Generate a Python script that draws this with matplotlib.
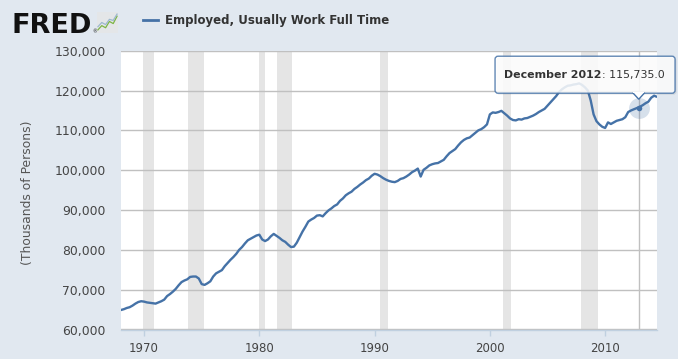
import numpy as np
import pandas as pd
import matplotlib
matplotlib.use("Agg")
import matplotlib.pyplot as plt
from matplotlib.patches import FancyBboxPatch, Polygon, Rectangle

# ---------------- data ----------------
series_name = "Employed, Usually Work Full Time"
y_label = "(Thousands of Persons)"

# quarterly readings (Jan, Apr, Jul, Oct), thousands of persons / 1000
quarterly_values = [
    64.9, 65.1, 65.4, 65.6,      # 1968
    66.0, 66.5, 66.9, 67.1,      # 1969
    67.0, 66.8, 66.7, 66.6,      # 1970
    66.5, 66.8, 67.1, 67.5,      # 1971
    68.4, 68.9, 69.5, 70.2,      # 1972
    71.1, 71.9, 72.3, 72.6,      # 1973
    73.2, 73.3, 73.3, 72.8,      # 1974
    71.4, 71.2, 71.6, 72.1,      # 1975
    73.3, 74.1, 74.5, 74.9,      # 1976
    75.9, 76.7, 77.5, 78.2,      # 1977
    79.0, 80.0, 80.7, 81.6,      # 1978
    82.4, 82.8, 83.2, 83.6,      # 1979
    83.8, 82.6, 82.2, 82.6,      # 1980
    83.4, 84.0, 83.5, 83.0,      # 1981
    82.4, 82.0, 81.3, 80.7,      # 1982
    80.8, 81.8, 83.2, 84.6,      # 1983
    85.8, 87.1, 87.6, 88.0,      # 1984
    88.6, 88.7, 88.4, 89.2,      # 1985
    89.9, 90.4, 91.0, 91.4,      # 1986
    92.3, 92.9, 93.7, 94.2,      # 1987
    94.6, 95.3, 95.8, 96.4,      # 1988
    96.9, 97.5, 97.9, 98.6,      # 1989
    99.1, 98.9, 98.5, 98.0,      # 1990
    97.6, 97.3, 97.1, 97.0,      # 1991
    97.3, 97.8, 98.0, 98.4,      # 1992
    98.9, 99.5, 99.9, 100.4,     # 1993
    98.4, 100.1, 100.6, 101.2,   # 1994
    101.5, 101.7, 101.8, 102.2,  # 1995
    102.6, 103.5, 104.3, 104.8,  # 1996
    105.3, 106.2, 107.0, 107.6,  # 1997
    108.0, 108.2, 108.8, 109.4,  # 1998
    110.0, 110.3, 110.8, 111.5,  # 1999
    114.0, 114.5, 114.4, 114.6,  # 2000
    114.9, 114.3, 113.7, 113.0,  # 2001
    112.6, 112.5, 112.8, 112.7,  # 2002
    113.0, 113.1, 113.4, 113.7,  # 2003
    114.1, 114.6, 115.0, 115.4,  # 2004
    116.2, 117.0, 117.8, 118.6,  # 2005
    119.6, 120.3, 120.8, 121.2,  # 2006
    121.3, 121.5, 121.6, 121.8,  # 2007
    121.4, 120.8, 120.0, 117.5,  # 2008
    114.0, 112.3, 111.5, 110.9,  # 2009
    110.6, 112.0, 111.6, 112.0,  # 2010
    112.4, 112.6, 112.8, 113.3,  # 2011
    114.6, 115.0, 115.3, 115.6,  # 2012
    115.9, 116.3, 116.8, 117.2,  # 2013
    118.2, 118.7,                # 2014
]
series_start = "1968-01-01"
last_date = "2014-06-01"
last_value = 118.5

recessions = [
    ("1969-12-01", "1970-11-01"),
    ("1973-11-01", "1975-03-01"),
    ("1980-01-01", "1980-07-01"),
    ("1981-07-01", "1982-11-01"),
    ("1990-07-01", "1991-03-01"),
    ("2001-03-01", "2001-11-01"),
    ("2007-12-01", "2009-06-01"),
]

highlight_label = "December 2012"
highlight_date = "2012-12-01"
highlight_value = 115735.0

y_ticks = [60000, 70000, 80000, 90000, 100000, 110000, 120000, 130000]
x_ticks = [1970, 1980, 1990, 2000, 2010]
x_range = (1968.0, 2014.5)

# decorative FRED icon zigzags
icon_line_a = [0.15, 0.35, 0.25, 0.55, 0.45, 0.8]
icon_line_b = [0.3, 0.5, 0.4, 0.65, 0.6, 0.9]

# ---------------- styling ----------------
BG = "#E1E8F0"
LINE = "#4572A7"
GRID = "#C0C0C0"
REC = "#E5E5E5"
TXT = "#333333"


def dec_year(d):
    d = pd.Timestamp(d)
    return d.year + (d.month - 1) / 12.0


dates = list(pd.date_range(series_start, periods=len(quarterly_values), freq="QS")) + [pd.Timestamp(last_date)]
x = np.array([dec_year(d) for d in dates])
y = np.array(quarterly_values + [last_value]) * 1000.0

W, H = 678, 359
fig = plt.figure(figsize=(W / 100, H / 100), dpi=100)
fig.patch.set_facecolor(BG)

ax = fig.add_axes([121 / W, (H - 329.5) / H, 536 / W, 278.8 / H])
ax.set_facecolor("white")
ax.set_xlim(*x_range)
ax.set_ylim(y_ticks[0], y_ticks[-1])

for s, e in recessions:
    ax.axvspan(dec_year(s), dec_year(e), color=REC, lw=0, zorder=1)

for t in y_ticks:
    ax.axhline(t, color=GRID, lw=1, zorder=2)

hx = dec_year(highlight_date)
ax.axvline(hx, color=GRID, lw=1, zorder=2)

ax.plot(x, y, color=LINE, lw=1.7, zorder=3, solid_joinstyle="round")

ax.plot([hx], [highlight_value], "o", ms=15, color=LINE, alpha=0.22, mec="none", zorder=4)
ax.plot([hx], [highlight_value], "o", ms=4, color=LINE, mec="none", zorder=5)

ax.set_yticks(y_ticks)
ax.set_yticklabels([f"{t:,}" for t in y_ticks])
ax.set_xticks(x_ticks)
ax.set_xticklabels([str(t) for t in x_ticks])
ax.tick_params(axis="y", length=0, pad=11, labelsize=8.9, labelcolor="#444444")
ax.tick_params(axis="x", length=4, width=1, color="#C0D0E0", pad=5, labelsize=8.5, labelcolor="#444444")
for side in ["left", "right", "top"]:
    ax.spines[side].set_visible(False)
ax.spines["bottom"].set_color("#C0D0E0")
ax.spines["bottom"].set_linewidth(1)
ax.spines["bottom"].set_zorder(6)

fig.text(28 / W, (H - 193) / H, y_label, rotation=90, ha="center", va="center",
         fontsize=8.9, color="#555555")

# header: FRED logo + legend
fig.text(12 / W, (H - 33) / H, "FRED", fontsize=19.5, fontweight="bold", color="#111111",
         ha="left", va="baseline")
fig.text(92 / W, (H - 33) / H, "®", fontsize=3.5, color="#1a1a1a", ha="left", va="baseline")
iax = fig.add_axes([97 / W, (H - 33) / H, 21 / W, 21 / H])
iax.set_facecolor("#E4E6E8")
iax.plot(np.linspace(0, 1, len(icon_line_a)), icon_line_a, color="#7DB545", lw=0.9)
iax.plot(np.linspace(0, 1, len(icon_line_b)), icon_line_b, color="#9DB8CF", lw=0.9)
iax.set_xlim(-0.05, 1.05)
iax.set_ylim(0, 1)
iax.set_xticks([])
iax.set_yticks([])
for sp in iax.spines.values():
    sp.set_visible(False)

fig.add_artist(plt.Line2D([143 / W, 158 / W], [(H - 20) / H, (H - 20) / H], color=LINE, lw=2))
fig.text(165 / W, (H - 20.5) / H, series_name, fontsize=8.5, fontweight="bold", color=TXT,
         ha="left", va="center")

# tooltip
fig.canvas.draw()
px, py = ax.transData.transform((hx, highlight_value))
bx0, bx1 = px - 143.7, px + 36.3
by0, by1 = py + 14.3, py + 51.3
shadow = FancyBboxPatch((bx0 + 1.5, by0 - 1.5), bx1 - bx0, by1 - by0,
                        boxstyle="round,pad=0,rounding_size=3", transform=None,
                        fc="black", ec="none", alpha=0.08, zorder=7)
box = FancyBboxPatch((bx0, by0), bx1 - bx0, by1 - by0,
                     boxstyle="round,pad=0,rounding_size=3", transform=None,
                     fc="white", ec=LINE, lw=1, alpha=0.85, zorder=8)
fig.add_artist(shadow)
fig.add_artist(box)
tri = Polygon([(px - 6, by0 + 0.5), (px, py + 8.3), (px + 6, by0 + 0.5)], closed=False,
              transform=None, fc="white", ec=LINE, lw=1, zorder=9)
fig.add_artist(tri)
fig.add_artist(Rectangle((px - 5.3, by0 - 0.2), 10.6, 1.4, transform=None, fc="white", ec="none", zorder=9))

cy = (by0 + by1) / 2
t1 = fig.text((bx0 + 9) / W, cy / H, highlight_label, fontsize=7.9, fontweight="bold",
              color=TXT, ha="left", va="center", zorder=10)
fig.canvas.draw()
ext = t1.get_window_extent(renderer=fig.canvas.get_renderer())
fig.text(ext.x1 / W, cy / H, f": {highlight_value:,.1f}", fontsize=7.9, color=TXT,
         ha="left", va="center", zorder=10)

fig.savefig("out.png", dpi=100, facecolor=BG)
